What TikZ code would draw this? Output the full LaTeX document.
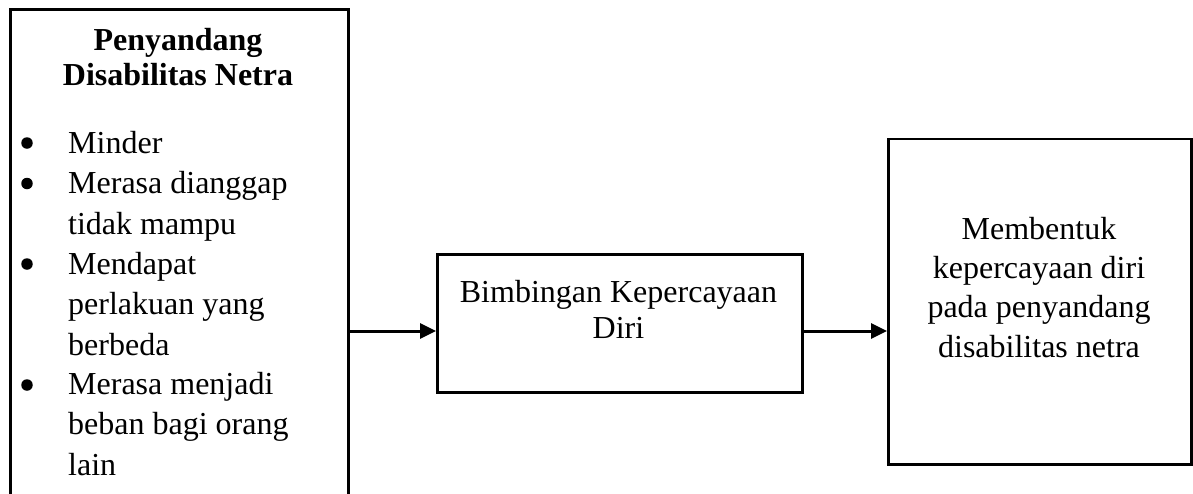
\documentclass[tikz,border=0pt]{standalone}
\usepackage{fontspec}
\setmainfont{Liberation Serif}
\usetikzlibrary{arrows.meta}

% multi-line nodes are placed by the baseline of their last line
\tikzset{
  frame/.style={draw, line width=2.6pt, rectangle, inner sep=0pt},
  txt/.style={inner sep=0pt, font=\fontsize{32}{40}\selectfont},
  bul/.style={circle, fill, inner sep=0pt, minimum size=11.5pt},
  item/.style={txt, anchor=base west, align=left, font=\fontsize{32}{40.25}\selectfont},
  flow/.style={line width=3pt, -{Triangle[length=16pt, width=15pt]}},
}

\begin{document}
\begin{tikzpicture}[x=1pt, y=1pt]
  \clip (0,0) rectangle (1193,-493);

  % left box (runs off the bottom of the page)
  \node[frame, minimum width=338pt, minimum height=560pt, anchor=north west]
    (problems) at (9,-8) {};

  % heading
  \node[txt, anchor=base, align=center,
        font=\fontsize{32}{35}\selectfont\bfseries]
    (head) at (178,-85) {Penyandang\\Disabilitas Netra};

  % bulleted list
  \node[bul] (b1) at (27,-143) {};
  \node[item] (i1) at (68,-153) {Minder};
  \node[bul] (b2) at (27,-183.5) {};
  \node[item] (i2) at (68,-234) {Merasa dianggap\\tidak mampu};
  \node[bul] (b3) at (27,-264) {};
  \node[item] (i3) at (68,-355) {Mendapat\\perlakuan yang\\berbeda};
  \node[bul] (b4) at (27,-385) {};
  \node[item] (i4) at (68,-475) {Merasa menjadi\\beban bagi orang\\lain};

  % middle box
  \node[frame, minimum width=365pt, minimum height=138pt, anchor=north west]
    (guide) at (436,-253) {};
  \node[txt, anchor=base, align=center, font=\fontsize{32}{36}\selectfont]
    (guidetxt) at (618.5,-338) {Bimbingan Kepercayaan\\Diri};

  % right box
  \node[frame, minimum width=303pt, minimum height=325.5pt, anchor=north west]
    (result) at (887,-137.5) {};
  \node[txt, anchor=base, align=center, font=\fontsize{32}{39.3}\selectfont]
    (resulttxt) at (1039,-357) {Membentuk\\kepercayaan diri\\pada penyandang\\disabilitas netra};

  % connectors
  \coordinate (lane) at (0,-331);
  \draw[flow] (problems.east |- lane) -- (guide.west |- lane);
  \draw[flow] (guide.east |- lane) -- (result.west |- lane);
\end{tikzpicture}
\end{document}
